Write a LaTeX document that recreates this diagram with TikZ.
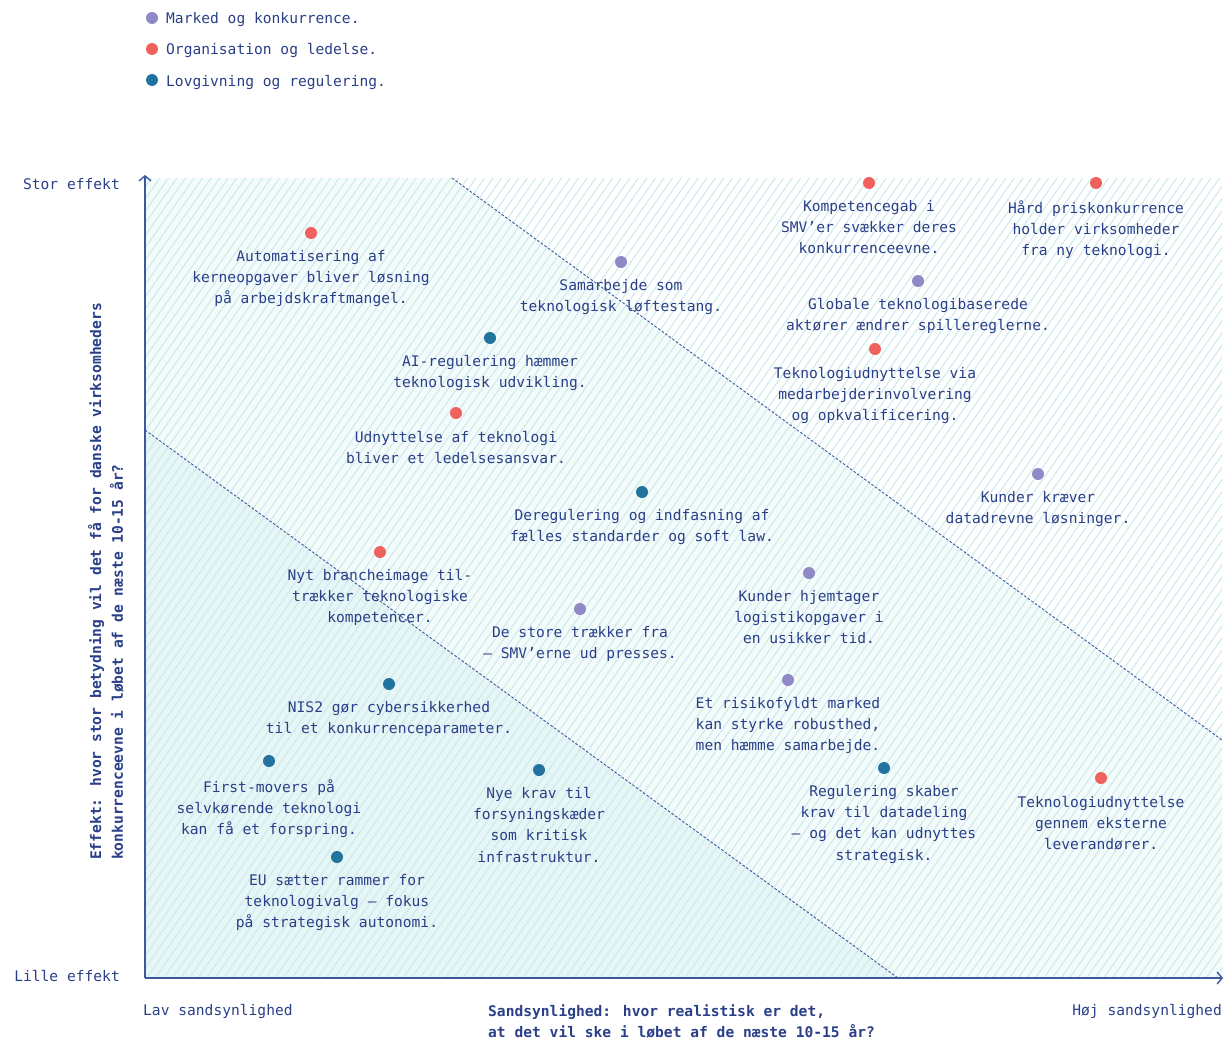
\documentclass[tikz,border=0pt]{standalone}
\usepackage{fontspec}
\setmainfont{DejaVu Sans Mono}
\usetikzlibrary{arrows.meta,patterns.meta}
\definecolor{txt}{HTML}{2A3F88}
\definecolor{axiscol}{HTML}{3F57A0}
\definecolor{mk}{HTML}{8F89C6}
\definecolor{org}{HTML}{F0615E}
\definecolor{lov}{HTML}{23739F}
\definecolor{hatchcol}{HTML}{CDEAEC}
\definecolor{tintA}{HTML}{E6F5F5}
\definecolor{tintB}{HTML}{F4FBFB}
\begin{document}
\begin{tikzpicture}[x=1pt,y=-1pt,
  lbl/.style={font=\fontsize{14.6}{21.3}\selectfont, text=txt, align=center, inner sep=0pt, anchor=north},
  plain/.style={font=\fontsize{14.6}{21.3}\selectfont, text=txt, inner sep=0pt},
  boldlbl/.style={font=\fontsize{14.6}{21.6}\selectfont\bfseries, text=txt, inner sep=0pt, align=left},
  dot/.style={circle, inner sep=0pt, minimum size=12pt},
  divider/.style={draw=axiscol, line width=0.9pt, dash pattern=on 2.6pt off 1.8pt},
  axisline/.style={draw=axiscol, line width=1.7pt, -{Straight Barb[length=5pt,width=12pt,line width=1.4pt]}}]
\useasboundingbox (0,0) rectangle (1224,1041);

% regions
\fill[tintB] (145,178) -- (452,178) -- (1222,740) -- (1222,978) -- (898,978) -- (145,430) -- cycle;
\fill[tintA] (145,430) -- (898,978) -- (145,978) -- cycle;
\fill[pattern={Lines[angle=55,distance=7pt,line width=1.1pt]}, pattern color=hatchcol] (145,178) rectangle (1222,978);

% dividers
\coordinate (u1) at (452,178);
\coordinate (u2) at (1222,740);
\coordinate (l1) at (145,430);
\coordinate (l2) at (898,978);
\draw[divider] (u1) -- (u2);
\draw[divider] (l1) -- (l2);

% axes
\coordinate (O) at (145,978);
\coordinate (Ytop) at (145,175);
\coordinate (Xend) at (1223,978);
\draw[axisline] (O) -- (Ytop);
\draw[axisline] (O) -- (Xend);

% axis labels
\node[plain, anchor=base east] (stor) at (120,189) {Stor effekt};
\node[plain, anchor=base east] (lille) at (120,981) {Lille effekt};
\node[plain, anchor=base west] (lav) at (143,1015) {Lav sandsynlighed};
\node[plain, anchor=base east] (hoj) at (1222,1015) {Høj sandsynlighed};
\node[boldlbl, anchor=north west] (xlab) at (488,1004) {Sandsynlighed: hvor realistisk er det,\\at det vil ske i løbet af de næste 10-15 år?};
\node[boldlbl, rotate=90, anchor=north west] (ylab) at (88,860) {Effekt: hvor stor betydning vil det få for danske virksomheders\\konkurrenceevne i løbet af de næste 10-15 år?};

% legend
\node[dot, fill=mk] (lg1) at (152,18) {};
\node[dot, fill=org] (lg2) at (152,49) {};
\node[dot, fill=lov] (lg3) at (152,80) {};
\node[plain, anchor=base west] (lt1) at (166,24) {Marked og konkurrence.};
\node[plain, anchor=base west] (lt2) at (166,55) {Organisation og ledelse.};
\node[plain, anchor=base west] (lt3) at (166,86) {Lovgivning og regulering.};

% items
\node[dot, fill=org] (d1) at (311,233) {};
\node[lbl] (t1) at (311,250) {Automatisering af\\kerneopgaver bliver løsning\\på arbejdskraftmangel.};

\node[dot, fill=mk] (d2) at (621,262) {};
\node[lbl] (t2) at (621,279) {Samarbejde som\\teknologisk løftestang.};

\node[dot, fill=lov] (d3) at (490,338) {};
\node[lbl] (t3) at (490,355) {AI-regulering hæmmer\\teknologisk udvikling.};

\node[dot, fill=org] (d4) at (456,413) {};
\node[lbl] (t4) at (456,431) {Udnyttelse af teknologi\\bliver et ledelsesansvar.};

\node[dot, fill=lov] (d5) at (642,492) {};
\node[lbl] (t5) at (642,509) {Deregulering og indfasning af\\fælles standarder og soft law.};

\node[dot, fill=org] (d6) at (380,552) {};
\node[lbl] (t6) at (380,569) {Nyt brancheimage til-\\trækker teknologiske\\kompetencer.};

\node[dot, fill=mk] (d7) at (580,609) {};
\node[lbl] (t7) at (580,626) {De store trækker fra\\– SMV’erne ud presses.};

\node[dot, fill=mk] (d8) at (809,573) {};
\node[lbl] (t8) at (809,590) {Kunder hjemtager\\logistikopgaver i\\en usikker tid.};

\node[dot, fill=mk] (d9) at (788,680) {};
\node[lbl] (t9) at (788,697) {Et risikofyldt marked\\kan styrke robusthed,\\men hæmme samarbejde.};

\node[dot, fill=lov] (d10) at (389,684) {};
\node[lbl] (t10) at (389,701) {NIS2 gør cybersikkerhed\\til et konkurrenceparameter.};

\node[dot, fill=lov] (d11) at (269,761) {};
\node[lbl] (t11) at (269,779) {First-movers på\\selvkørende teknologi\\kan få et forspring.};

\node[dot, fill=lov] (d12) at (539,770) {};
\node[lbl] (t12) at (539,787) {Nye krav til\\forsyningskæder\\som kritisk\\infrastruktur.};

\node[dot, fill=lov] (d13) at (337,857) {};
\node[lbl] (t13) at (337,874) {EU sætter rammer for\\teknologivalg – fokus\\på strategisk autonomi.};

\node[dot, fill=lov] (d14) at (884,768) {};
\node[lbl] (t14) at (884,785) {Regulering skaber\\krav til datadeling\\– og det kan udnyttes\\strategisk.};

\node[dot, fill=org] (d15) at (1101,778) {};
\node[lbl] (t15) at (1101,796) {Teknologiudnyttelse\\gennem eksterne\\leverandører.};

\node[dot, fill=org] (d16) at (869,183) {};
\node[lbl] (t16) at (869,200) {Kompetencegab i\\SMV’er svækker deres\\konkurrenceevne.};

\node[dot, fill=org] (d17) at (1096,183) {};
\node[lbl] (t17) at (1096,200) {Hård priskonkurrence\\holder virksomheder\\fra ny teknologi.};

\node[dot, fill=mk] (d18) at (918,281) {};
\node[lbl] (t18) at (918,298) {Globale teknologibaserede\\aktører ændrer spillereglerne.};

\node[dot, fill=org] (d19) at (875,349) {};
\node[lbl] (t19) at (875,367) {Teknologiudnyttelse via\\medarbejderinvolvering\\og opkvalificering.};

\node[dot, fill=mk] (d20) at (1038,474) {};
\node[lbl] (t20) at (1038,491) {Kunder kræver\\datadrevne løsninger.};
\end{tikzpicture}
\end{document}
